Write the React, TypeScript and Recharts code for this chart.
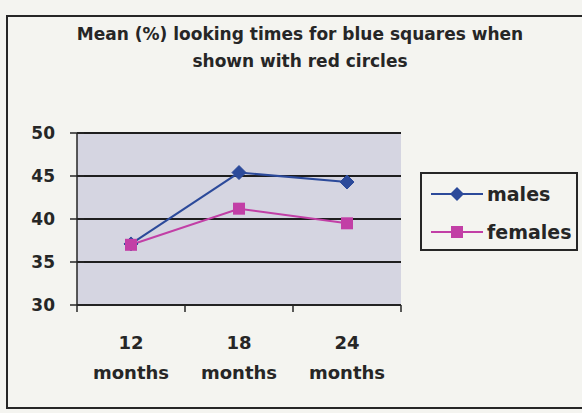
import React from 'react';
import { LineChart, Line, XAxis, YAxis, CartesianGrid } from 'recharts';

const ages = ['12', '18', '24'];
const males = [37.1, 45.4, 44.3];
const females = [37.0, 41.2, 39.5];
const yTicks = [30, 35, 40, 45, 50];
const seriesNames = ['males', 'females'];

const data = ages.map((age, i) => ({ age, males: males[i], females: females[i] }));

const FONT = '"DejaVu Sans", Verdana, sans-serif';
const INK = '#262626';
const MALE = '#2c4a9a';
const FEMALE = '#c23fa6';
const BAND = 54; // half a category band
const TICK = 7;

function Diamond({ cx, cy }: { cx?: number; cy?: number }) {
  if (cx == null || cy == null) return null;
  const r = 7;
  return (
    <path
      d={`M${cx},${cy - r}L${cx + r},${cy}L${cx},${cy + r}L${cx - r},${cy}Z`}
      fill={MALE}
      stroke={MALE}
    />
  );
}

function Square({ cx, cy }: { cx?: number; cy?: number }) {
  if (cx == null || cy == null) return null;
  const r = 6;
  return <rect x={cx - r} y={cy - r} width={r * 2} height={r * 2} fill={FEMALE} />;
}

function AgeTick({ x, y, payload, index }: any) {
  return (
    <g>
      {index === 0 && <line x1={x - BAND} x2={x - BAND} y1={y - 8} y2={y - 1} stroke={INK} strokeWidth={1.5} />}
      <line x1={x + BAND} x2={x + BAND} y1={y - 8} y2={y - 1} stroke={INK} strokeWidth={1.5} />
      <text x={x} y={y + 36} textAnchor="middle" fontFamily={FONT} fontWeight="bold" fontSize={18} fill={INK}>
        {payload.value}
      </text>
      <text x={x} y={y + 66} textAnchor="middle" fontFamily={FONT} fontWeight="bold" fontSize={18} fill={INK}>
        months
      </text>
    </g>
  );
}

// tickLine is off; the tick crosses the axis line
function ValueTick({ x, y, payload }: any) {
  const axisX = x + TICK;
  return (
    <g>
      <line x1={axisX - TICK} x2={axisX + TICK} y1={y} y2={y} stroke={INK} strokeWidth={1.5} />
      <text x={axisX - 22} y={y + 6} textAnchor="end" fontFamily={FONT} fontWeight="bold" fontSize={17} fill={INK}>
        {payload.value}
      </text>
    </g>
  );
}

function LegendBox() {
  const colors = [MALE, FEMALE];
  return (
    <div
      style={{
        position: 'absolute',
        left: 420,
        top: 172,
        border: `2px solid ${INK}`,
        width: 154,
        height: 75,
        fontFamily: FONT,
        fontWeight: 'bold',
        fontSize: 19,
        color: INK,
      }}
    >
      {seriesNames.map((name, i) => (
        <div key={name} style={{ display: 'flex', alignItems: 'center', height: 38, paddingLeft: 7, paddingTop: i === 0 ? 1 : 0 }}>
          <svg width={56} height={16}>
            <line x1={2} x2={54} y1={8} y2={8} stroke={colors[i]} strokeWidth={2} />
            {i === 0 ? (
              <path d="M28,1L35,8L28,15L21,8Z" fill={colors[i]} />
            ) : (
              <rect x={22} y={2} width={12} height={12} fill={colors[i]} />
            )}
          </svg>
          <span style={{ marginLeft: 2 }}>{name}</span>
        </div>
      ))}
    </div>
  );
}

export default function App() {
  return (
    <div
      style={{
        position: 'fixed',
        left: 0,
        top: 0,
        width: 582,
        height: 413,
        background: '#f4f4f0',
        overflow: 'hidden',
      }}
    >
      <div
        style={{
          position: 'absolute',
          left: 6,
          top: 15,
          width: 590,
          height: 390,
          border: `2px solid ${INK}`,
        }}
      />
      <div
        style={{
          position: 'absolute',
          left: 0,
          top: 21,
          width: 600,
          textAlign: 'center',
          fontFamily: FONT,
          fontWeight: 'bold',
          fontSize: 17,
          lineHeight: '27px',
          color: INK,
        }}
      >
        Mean (%) looking times for blue squares when
        <br />
        shown with red circles
      </div>
      <LineChart
        width={582}
        height={413}
        data={data}
        margin={{ top: 133, right: 181, bottom: 28, left: 37 }}
        style={{ position: 'absolute', left: 0, top: 0 }}
      >
        <CartesianGrid vertical={false} horizontal fill="#d5d5e1" stroke="#1e1e1e" strokeWidth={2} />
        <XAxis
          dataKey="age"
          height={80}
          padding={{ left: BAND, right: BAND }}
          tickLine={false}
          axisLine={{ stroke: INK, strokeWidth: 1.5 }}
          tick={<AgeTick />}
          interval={0}
        />
        <YAxis
          width={40}
          domain={[30, 50]}
          ticks={yTicks}
          tickSize={TICK}
          tickMargin={0}
          tickLine={false}
          axisLine={{ stroke: INK, strokeWidth: 1.5 }}
          tick={<ValueTick />}
          interval={0}
        />
        <Line
          dataKey="males"
          name="males"
          stroke={MALE}
          strokeWidth={2}
          dot={<Diamond />}
          isAnimationActive={false}
        />
        <Line
          dataKey="females"
          name="females"
          stroke={FEMALE}
          strokeWidth={2}
          dot={<Square />}
          isAnimationActive={false}
        />
      </LineChart>
      <LegendBox />
    </div>
  );
}
